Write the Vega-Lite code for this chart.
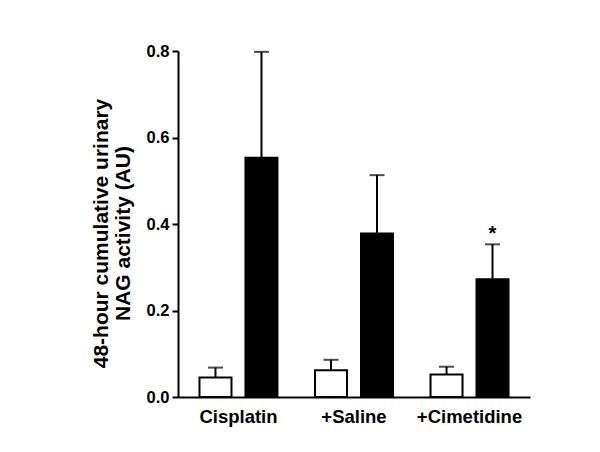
{
  "$schema": "https://vega.github.io/schema/vega-lite/v6.json",
  "autosize": {"type": "none"},
  "padding": {"left": 178, "top": 51, "right": 70, "bottom": 55},
  "width": 352,
  "height": 346,
  "background": "white",
  "config": {
    "view": {"stroke": null},
    "font": "Liberation Sans",
    "axis": {"labelFont": "Liberation Sans", "titleFont": "Liberation Sans", "labelColor": "black", "titleColor": "black", "domainColor": "black", "tickColor": "black"}
  },
  "data": {
    "values": [
      {"group": "Cisplatin", "series": "control", "value": 0.045, "hi": 0.068, "sig": ""},
      {"group": "Cisplatin", "series": "treated", "value": 0.553, "hi": 0.798, "sig": ""},
      {"group": "+Saline", "series": "control", "value": 0.062, "hi": 0.086, "sig": ""},
      {"group": "+Saline", "series": "treated", "value": 0.378, "hi": 0.513, "sig": ""},
      {"group": "+Cimetidine", "series": "control", "value": 0.052, "hi": 0.070, "sig": ""},
      {"group": "+Cimetidine", "series": "treated", "value": 0.272, "hi": 0.353, "sig": "*"}
    ]
  },
  "encoding": {
    "x": {
      "field": "group", "type": "nominal", "sort": ["Cisplatin", "+Saline", "+Cimetidine"],
      "scale": {"paddingInner": 0.325, "paddingOuter": 0.186},
      "axis": {"title": null, "ticks": false, "labelAngle": 0, "labelFontSize": 18.5, "labelFontWeight": "bold", "labelPadding": 10, "domainWidth": 2}
    },
    "xOffset": {"field": "series", "type": "nominal", "scale": {"paddingInner": 0.304, "paddingOuter": 0}}
  },
  "layer": [
    {
      "mark": {"type": "rule", "strokeWidth": 2, "color": "black"},
      "encoding": {
        "y": {"field": "value", "type": "quantitative"},
        "y2": {"field": "hi"}
      }
    },
    {
      "mark": {"type": "tick", "thickness": 2, "size": 15, "color": "black", "orient": "horizontal"},
      "encoding": {
        "y": {"field": "hi", "type": "quantitative"}
      }
    },
    {
      "mark": {"type": "bar", "stroke": "black", "strokeWidth": 2},
      "encoding": {
        "y": {
          "field": "value", "type": "quantitative",
          "scale": {"domain": [0, 0.8], "nice": false},
          "axis": {
            "values": [0, 0.2, 0.4, 0.6, 0.8], "format": ".1f", "grid": false,
            "tickSize": 6, "tickWidth": 2, "domainWidth": 2,
            "labelFontSize": 16.5, "labelFontWeight": "bold", "labelPadding": 3,
            "title": ["48-hour cumulative urinary", "NAG activity (AU)"],
            "titleFontSize": 21, "titleFontWeight": "bold", "titleLineHeight": 22, "titlePadding": 13, "titleY": 182
          }
        },
        "fill": {"field": "series", "type": "nominal", "scale": {"domain": ["control", "treated"], "range": ["white", "black"]}, "legend": null}
      }
    },
    {
      "mark": {"type": "text", "fontSize": 20, "fontWeight": "bold", "dy": 0, "baseline": "bottom", "color": "black"},
      "encoding": {
        "y": {"field": "hi", "type": "quantitative"},
        "text": {"field": "sig"}
      }
    }
  ]
}
